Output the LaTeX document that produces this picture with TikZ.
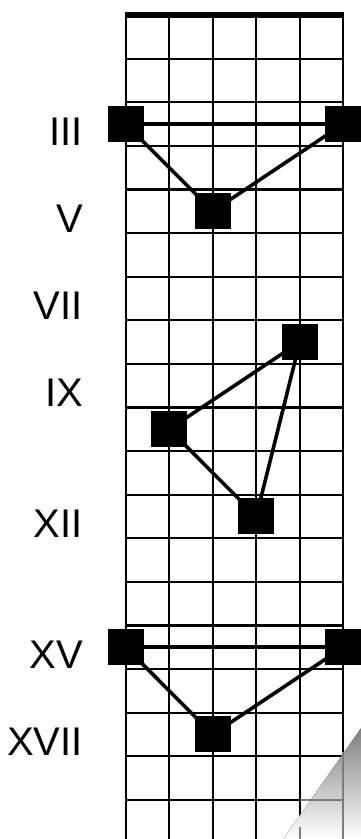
\documentclass[tikz,border=0pt]{standalone}
\usepackage{fontspec}
\setmainfont{Liberation Sans}
\definecolor{shade}{RGB}{166,166,168}
\definecolor{shadeline}{RGB}{125,125,127}
\begin{document}
\begin{tikzpicture}[x=1pt,y=-1pt,
  gridline/.style={line width=2.2pt,black},
  conn/.style={line width=3.6pt,black},
  note/.style={rectangle,fill=black,draw=none,minimum size=36pt,inner sep=0pt},
  fretlabel/.style={anchor=base east,inner sep=0pt,font=\fontsize{40}{40}\selectfont}]
\useasboundingbox (0,0) rectangle (361,839);
% grid
\foreach \k in {1,...,18} \draw[gridline] (125.7,{15+43.6*\k}) -- (343.3,{15+43.6*\k});
\foreach \i in {0,...,5} \draw[gridline] ({125.7+43.52*\i},15) -- ({125.7+43.52*\i},839);
\fill[black] (124.6,11.7) rectangle (344.4,18.3);
% group 1
\node[note] (a1) at (125.7,124) {};
\node[note] (a6) at (343.3,124) {};
\node[note] (a3) at (212.8,211.2) {};
\draw[conn] (a1.center) -- (a6.center);
\draw[conn] (a1.center) -- (a3.center) -- (a6.center);
% group 2
\node[note] (b5) at (299.8,342) {};
\node[note] (b2) at (169.2,429.2) {};
\node[note] (b4) at (256.3,516.4) {};
\draw[conn] (b5.center) -- (b2.center) -- (b4.center) -- (b5.center);
% group 3
\node[note] (c1) at (125.7,647.2) {};
\node[note] (c6) at (343.3,647.2) {};
\node[note] (c3) at (212.8,734.4) {};
\draw[conn] (c1.center) -- (c6.center);
\draw[conn] (c1.center) -- (c3.center) -- (c6.center);
% labels
\node[fretlabel] (l3) at (83,145.3) {III};
\node[fretlabel] (l5) at (83,232.5) {V};
\node[fretlabel] (l7) at (83,319.7) {VII};
\node[fretlabel] (l9) at (83,406.9) {IX};
\node[fretlabel] (l12) at (83,537.7) {XII};
\node[fretlabel] (l15) at (83,668.5) {XV};
\node[fretlabel] (l17) at (83,755.7) {XVII};
% grey corner
\fill[shade] (283.3,839) -- (361,728.3) -- (361,839) -- cycle;
\draw[gridline,shadeline] (300,{15+43.6*18}) -- (343.3,{15+43.6*18});
\draw[gridline,shadeline] ({125.7+43.52*4},827) -- ({125.7+43.52*4},839);
\draw[gridline,shadeline] ({125.7+43.52*5},752) -- ({125.7+43.52*5},839);
\end{tikzpicture}
\end{document}
